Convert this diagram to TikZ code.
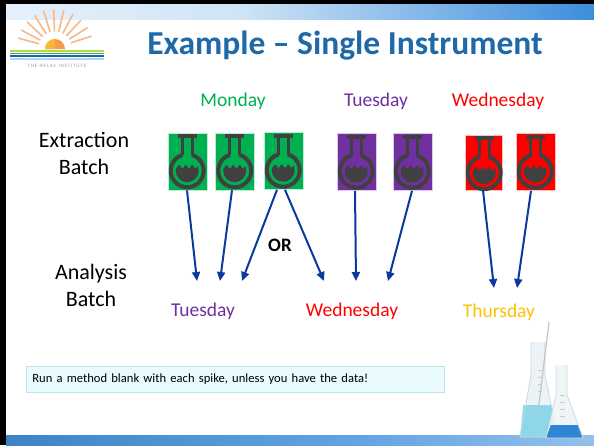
\documentclass[tikz,border=0pt]{standalone}
\usepackage{fontspec}
\setmainfont{Carlito}
\usetikzlibrary{arrows.meta}

\definecolor{titleblue}{HTML}{1F69A8}
\definecolor{mgreen}{HTML}{00B050}
\definecolor{mpurple}{HTML}{7030A0}
\definecolor{mred}{HTML}{FF0000}
\definecolor{myellow}{HTML}{FFC000}
\definecolor{iconGray}{HTML}{404040}
\definecolor{arrowblue}{HTML}{0B3A9E}
\definecolor{notefill}{HTML}{E9FBFD}
\definecolor{noteedge}{HTML}{BFE3EC}
\definecolor{barlight}{HTML}{CFE4F6}
\definecolor{barmid}{HTML}{3C8DDC}
\definecolor{bardark}{HTML}{0E5A9C}
\definecolor{rayorange}{HTML}{F5B98A}
\definecolor{sunorange}{HTML}{F29B4B}
\definecolor{glass}{HTML}{C9D9E1}
\definecolor{liquidlight}{HTML}{8ED6EA}
\definecolor{liquiddark}{HTML}{2F86D6}

\pgfdeclarehorizontalshading{headerband}{100bp}{
  color(0bp)=(white); color(16bp)=(white!92!barmid); color(45bp)=(barlight);
  color(75bp)=(barmid); color(100bp)=(bardark)}
\pgfdeclarehorizontalshading{footerband}{100bp}{
  color(0bp)=(bardark!70!barmid); color(55bp)=(barmid!80!white); color(100bp)=(barlight)}

\tikzset{
  x=1pt, y=-1pt,
  daylabel/.style={font=\fontsize{19.5}{23}\selectfont, inner sep=0pt},
  sidelabel/.style={font=\fontsize{22}{27}\selectfont, align=center, inner sep=0pt},
  flaskbox/.style={minimum width=39pt, minimum height=57pt, inner sep=0pt,
                   draw=white!75!#1, line width=0.6pt, fill=#1},
  batcharrow/.style={draw=arrowblue, line width=2pt,
                     -{Triangle[length=9pt, width=8pt]}},
  pics/flaskicon/.style={code={
    % lip of the neck
    \fill[iconGray] (10,1.5) rectangle (29,5.5);
    % neck walls
    \draw[iconGray, line width=3pt] (14.5,5) -- (14.5,22.6);
    \draw[iconGray, line width=3pt] (24.5,5) -- (24.5,22.6);
    % bulb
    \draw[iconGray, line width=4pt] (19.5,38) ++(-72.4:16.5)
         arc[start angle=-72.4, end angle=252.4, radius=16.5];
    % liquid with a wavy surface
    \begin{scope}
      \clip (19.5,38) circle[radius=11.5];
      \fill[iconGray] plot[domain=6:33, samples=40] (\x, {34+1.6*sin(\x*55)})
           -- (33,52) -- (6,52) -- cycle;
    \end{scope}
  }}
}

\begin{document}
\begin{tikzpicture}
\useasboundingbox (0,0) rectangle (594,445);
\fill[white] (0,0) rectangle (594,445);

% header band and frame
\shade[shading=headerband] (6,4) rectangle (594,19);
\shade[shading=footerband] (6,435) rectangle (594,445);
\fill[black] (0,0) rectangle (594,4);
\fill[black] (0,0) rectangle (6,445);

% institute logo
\foreach \a in {-18,-32,-47,-62,-77,-92,-107,-122,-137,-152,-165}{
  \draw[rayorange, line width=1.6pt, line cap=round]
    (55,48) ++(\a:17) -- ++(\a:21);
}
\fill[sunorange] (45,49) arc[start angle=180, end angle=360, radius=10] -- cycle;
\fill[sunorange!70!yellow] (45,49) arc[start angle=180, end angle=270, radius=10] -- (55,49) -- cycle;
\draw[yellow!60!green!80!white, line width=2pt] (10,51) -- (104,51);
\draw[green!50!black!70!white, line width=1.2pt] (10,53.2) -- (104,53.2);
\draw[bardark!90!cyan, line width=2.5pt] (10,56) -- (104,56);
\draw[barmid!40!white, line width=1.5pt] (10,58.8) -- (104,58.8);
\node[font=\fontsize{5}{6}\selectfont, text=gray!80, inner sep=0pt] (logotext) at (57,66)
  {T\,H\,E \ N\,E\,L\,A\,C \ I\,N\,S\,T\,I\,T\,U\,T\,E};

% title
\node[font=\bfseries\fontsize{33.5}{38}\selectfont, text=titleblue, inner sep=0pt]
  (title) at (345,46) {Example -- Single Instrument};

% row labels
\node[sidelabel] (extraction) at (84,153) {Extraction\\Batch};
\node[sidelabel] (analysis) at (91,285) {Analysis\\Batch};

% extraction days
\node[daylabel, text=mgreen] (mon) at (233,101) {Monday};
\node[daylabel, text=mpurple] (tue) at (376,101) {Tuesday};
\node[daylabel, text=mred] (wed) at (498,101) {Wednesday};

% sample flasks
\node[flaskbox=mgreen] (g1) at (187.5,161.5) {};
\node[flaskbox=mgreen] (g2) at (235,161.5) {};
\node[flaskbox=mgreen] (g3) at (283.5,161) {};
\node[flaskbox=mpurple] (p1) at (356.5,162) {};
\node[flaskbox=mpurple] (p2) at (412.5,162) {};
\node[flaskbox=mred, minimum width=37pt, minimum height=55pt] (r1) at (483.5,162.5) {};
\node[flaskbox=mred] (r2) at (535.5,162) {};
\foreach \b in {g1,g2,g3,p1,p2,r1,r2}{
  \pic at (\b.north west) {flaskicon};
}

% analysis days
\node[daylabel, text=mpurple] (atue) at (203,311) {Tuesday};
\node[daylabel, text=mred] (awed) at (352,311) {Wednesday};
\node[daylabel, text=myellow] (athu) at (499,312) {Thursday};

% arrow end points above the analysis days
\coordinate (e1) at (197,281);
\coordinate (e2) at (220,281);
\coordinate (e3) at (242,281);
\coordinate (e4) at (324,281);
\coordinate (e5) at (356,281);
\coordinate (e6) at (388,281);
\coordinate (e7) at (494,288);
\coordinate (e8) at (517,288);

\draw[batcharrow] ([xshift=-0.5pt]g1.south) -- (e1);
\draw[batcharrow] ([xshift=-3pt]g2.south) -- (e2);
\draw[batcharrow] ([xshift=-6.5pt]g3.south) -- (e3);
\draw[batcharrow] ([xshift=1.5pt]g3.south) -- (e4);
\draw[batcharrow] ([xshift=-1.5pt]p1.south) -- (e5);
\draw[batcharrow] ([xshift=-0.5pt]p2.south) -- (e6);
\draw[batcharrow] ([xshift=-0.5pt]r1.south) -- (e7);
\draw[batcharrow] ([xshift=-4.5pt]r2.south) -- (e8);

\node[font=\bfseries\fontsize{19}{22}\selectfont, inner sep=0pt] (or) at (280,245) {OR};

% note
\node[draw=noteedge, fill=notefill, line width=0.6pt, anchor=west,
      text width=406pt, minimum height=26pt, inner xsep=6pt, inner ysep=0pt,
      align=left, font=\fontsize{12.6}{15}\selectfont] (note) at (26,379)
  {Run a method blank with each spike, unless you have the data!};

% glassware in the corner
\fill[glass!35] (531,342) -- (545,342) -- (545,375) -- (558,437) -- (520,437) -- (531,375) -- cycle;
\fill[liquidlight] (523.3,405) -- (551.3,405) -- (558,437) -- (520,437) -- cycle;
\draw[glass, line width=0.8pt] (531,342) -- (531,375) -- (520,437) -- (558,437) -- (545,375) -- (545,342);
\draw[glass!80!gray, line width=1.2pt] (549,322) -- (537,420);
\fill[glass!30, opacity=0.9] (556,365) -- (567,365) -- (567,395) -- (583,438) -- (546,438) -- (556,395) -- cycle;
\fill[liquiddark] (550.8,425) -- (578.2,425) -- (583,438) -- (546,438) -- cycle;
\draw[glass, line width=0.8pt] (556,365) -- (556,395) -- (546,438) -- (583,438) -- (567,395) -- (567,365);
\foreach \yy in {395,402,409,416}{
  \draw[gray!40, line width=0.5pt] (560,\yy) -- (565,\yy);
  \draw[gray!40, line width=0.5pt] (538,\yy-25) -- (542,\yy-25);
}
\end{tikzpicture}
\end{document}
